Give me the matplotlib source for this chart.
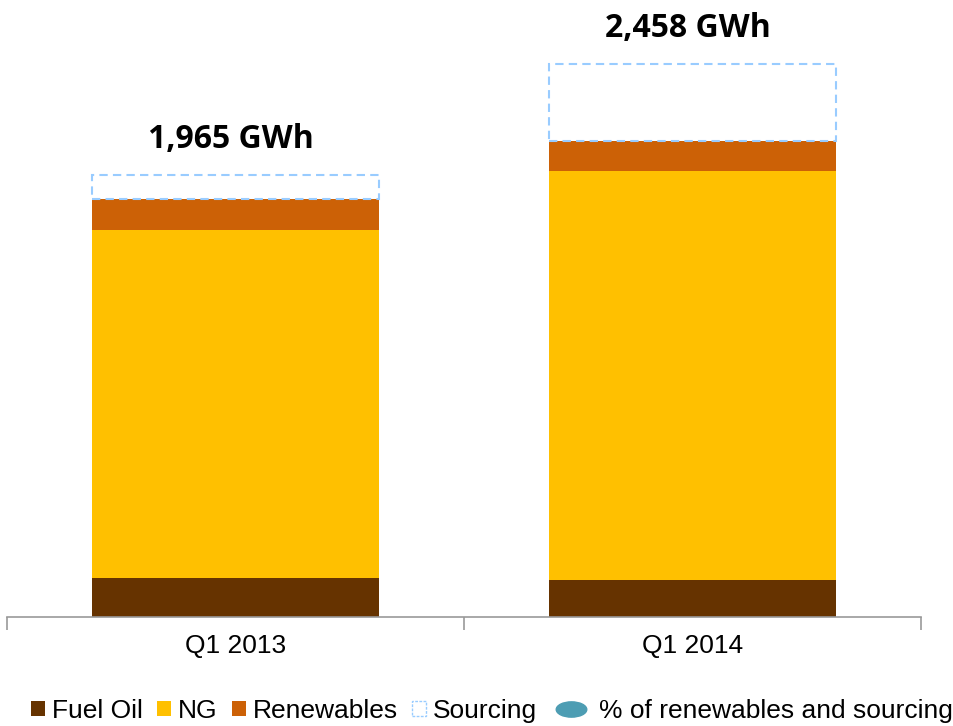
import matplotlib.pyplot as plt
import numpy as np
from matplotlib.patches import Patch
from matplotlib.lines import Line2D
from matplotlib.path import Path
from matplotlib.transforms import Affine2D

categories = ["Q1 2013", "Q1 2014"]
fuel_oil = [173, 165]
ng = [1548, 1820]
renewables = [138, 133]
sourcing = [106, 340]
totals = [1965, 2458]
total_labels = ["1,965 GWh", "2,458 GWh"]

c_fuel = "#663300"
c_ng = "#FFC000"
c_ren = "#CC6106"
c_src = "#99CCFF"
c_pct = "#4D9DB3"

fig = plt.figure(figsize=(9.54, 7.26), dpi=100)
W, H = 954, 726
ax = fig.add_axes([7 / W, (H - 617) / H, 914 / W, 607 / H])

x = np.arange(len(categories))
width = 0.63
fuel = np.array(fuel_oil)
gas = np.array(ng)
ren = np.array(renewables)
src = np.array(sourcing)

ax.bar(x, fuel, width, color=c_fuel, edgecolor="none")
ax.bar(x, gas, width, bottom=fuel, color=c_ng, edgecolor="none")
ax.bar(x, ren, width, bottom=fuel + gas, color=c_ren, edgecolor="none")
ax.bar(x, src, width, bottom=fuel + gas + ren, facecolor="white",
       edgecolor=c_src, linestyle=(0, (4, 2.5)), linewidth=1.5)

for i, t in enumerate(totals):
    ax.text(x[i] - 0.01, t + 160, total_labels[i], ha="center", va="center",
            fontsize=23, fontweight="bold", family="Open Sans")

ax.set_xlim(-0.5, 1.5)
ax.set_ylim(0, 2700)
ax.set_yticks([])
ax.set_xticks(x)
ax.set_xticklabels(categories, family="Liberation Sans", fontsize=19)
ax.tick_params(axis="x", which="major", length=0, pad=12)
ax.set_xticks([-0.5, 0.5, 1.5], minor=True)
ax.tick_params(axis="x", which="minor", length=9, color="#999999", width=1.2)
for s in ["top", "right", "left"]:
    ax.spines[s].set_visible(False)
ax.spines["bottom"].set_color("#999999")
ax.spines["bottom"].set_linewidth(1.2)

fs = 19
em = fs * 100 / 72
legend_y = (H - 711) / H
handles = [
    Patch(facecolor=c_fuel, edgecolor="none"),
    Patch(facecolor=c_ng, edgecolor="none"),
    Patch(facecolor=c_ren, edgecolor="none"),
    Patch(facecolor="white", edgecolor=c_src, linestyle=(0, (2, 1)), linewidth=1),
]
labels = ["Fuel Oil", "NG", "Renewables", "Sourcing"]
leg1 = fig.legend(handles, labels, loc="center left",
                  bbox_to_anchor=(31 / W, legend_y),
                  ncol=4, frameon=False, prop={"family": "Liberation Sans", "size": fs},
                  handlelength=14 / em, handleheight=14 / em, handletextpad=7 / em,
                  columnspacing=14 / em, borderpad=0, borderaxespad=0)

ellipse = Path.unit_circle().transformed(Affine2D().scale(2.0, 1.0))
pct = Line2D([], [], marker=ellipse, color=c_pct, linestyle="none", markersize=22)
leg2 = fig.legend([pct], ["% of renewables and sourcing"], loc="center left",
                  bbox_to_anchor=(556 / W, legend_y),
                  frameon=False, prop={"family": "Liberation Sans", "size": fs},
                  handlelength=31 / em, handletextpad=12 / em,
                  borderpad=0, borderaxespad=0)

fig.savefig("out.png", dpi=100)
